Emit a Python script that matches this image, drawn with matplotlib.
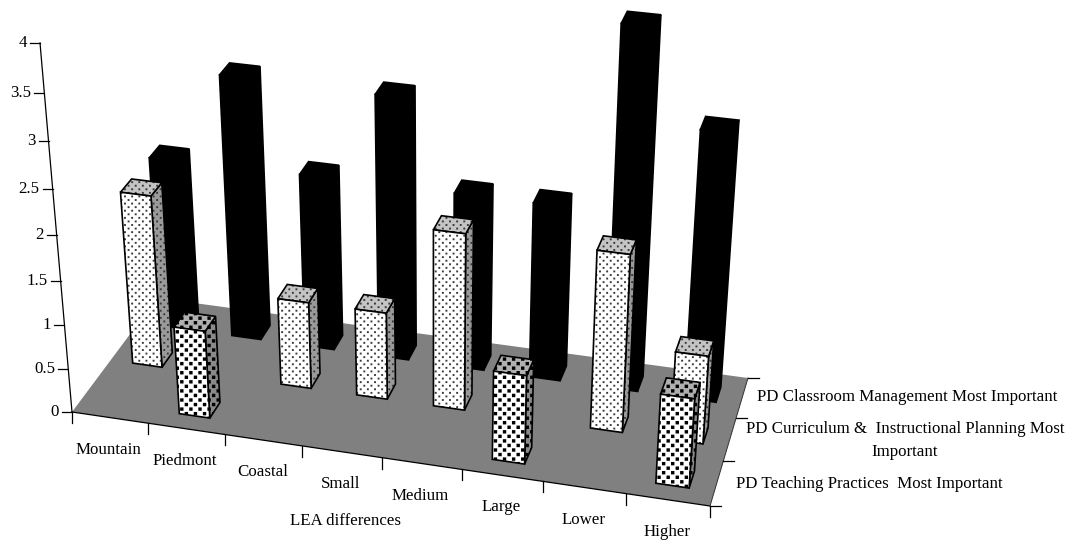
import numpy as np
import matplotlib
matplotlib.use("Agg")
import matplotlib.pyplot as plt
from matplotlib.patches import Polygon
from matplotlib import hatch as mhatch
from matplotlib.path import Path

plt.rcParams['font.family'] = ['Liberation Serif', 'DejaVu Serif']
plt.rcParams['hatch.linewidth'] = 0.0

categories = ["Mountain", "Piedmont", "Coastal", "Small", "Medium", "Large", "Lower", "Higher"]
series_names = ["PD Teaching Practices  Most Important",
                "PD Curriculum &  Instructional Planning Most\nImportant",
                "PD Classroom Management Most Important"]
teaching = [0, 1.0, 0, 0, 0, 1.0, 0, 1.0]
curriculum = [1.98, 0, 1.0, 1.0, 2.0, 0, 2.0, 1.0]
classroom = [1.98, 3.0, 2.0, 2.98, 2.0, 2.0, 4.0, 3.0]
y_ticks = [0, 0.5, 1, 1.5, 2, 2.5, 3, 3.5, 4]
y_tick_labels = ["0", "0.5", "1", "1.5", "2", "2.5", "3", "3.5", "4"]
x_title = "LEA differences"


class StaggeredDots(mhatch.HatchPatternBase):
    """Staggered square dots: 'o' large, 'O' fine."""
    SPEC = {'o': (22, 11, 0.034), 'O': (28, 14, 0.019)}

    def __init__(self, hatch, density):
        self.items = []
        for ch, (nr, nc, s) in self.SPEC.items():
            if ch in hatch:
                for r in range(nr + 1):
                    xs = [i / nc for i in range(nc + 1)] if r % 2 == 0 else [(i + 0.5) / nc for i in range(nc)]
                    for x in xs:
                        self.items.append((x, r / nr, s / 2))
        self.num_vertices = len(self.items) * 5

    def set_vertices_and_codes(self, vertices, codes):
        c = 0
        for x, y, h in self.items:
            vertices[c:c + 5] = [(x - h, y - h), (x + h, y - h), (x + h, y + h), (x - h, y + h), (x - h, y - h)]
            codes[c:c + 5] = [Path.MOVETO, Path.LINETO, Path.LINETO, Path.LINETO, Path.CLOSEPOLY]
            c += 5


mhatch._hatch_types[:] = [StaggeredDots]

# perspective camera of the chart, as pixel positions of the floor corners
floor_px = np.array([[72, 412], [710, 506], [748, 378], [157, 298]], float)
floor_uv = np.array([[0, 0], [8, 0], [8, 3], [0, 3]], float)
vert_vp = np.array([435.0, 4600.0])
top_axis_y = 43.0


def solve_h(src, dst):
    A, b = [], []
    for (u, v), (x, y) in zip(src, dst):
        A.append([u, v, 1, 0, 0, 0, -u * x, -v * x]); b.append(x)
        A.append([0, 0, 0, u, v, 1, -u * y, -v * y]); b.append(y)
    h = np.linalg.solve(np.array(A), np.array(b))
    return np.array([[h[0], h[1], h[2]], [h[3], h[4], h[5]], [h[6], h[7], 1.0]])


H = solve_h(floor_uv, floor_px)
k = (top_axis_y - H[1, 2]) / (y_ticks[-1] * (vert_vp[1] - top_axis_y))
p_h = k * np.array([vert_vp[0], vert_vp[1], 1.0])


def proj(u, v, h=0.0):
    q = H @ np.array([u, v, 1.0]) + h * p_h
    return q[:2] / q[2]


FS = 12.15
fig = plt.figure(figsize=(10.7, 5.4), dpi=100)
ax = fig.add_axes([0, 0, 1, 1])
ax.set_xlim(0, 1070)
ax.set_ylim(540, 0)
ax.axis("off")

# floor
ax.add_patch(Polygon([proj(0, 0), proj(8, 0), proj(8, 3), proj(0, 3)], closed=True,
                     facecolor="#808080", edgecolor="none", zorder=1))
ax.plot(*zip(proj(0, 0), proj(8, 0)), color="k", lw=0.9, zorder=1.5)
ax.plot(*zip(proj(8, 0), proj(8, 3)), color="#333333", lw=0.7, zorder=1.5)

# value axis
ax.plot(*zip(proj(0, 0, y_ticks[-1]), proj(0, 0, 0)), color="k", lw=0.9)
for t, lab in zip(y_ticks, y_tick_labels):
    x, y = proj(0, 0, t)
    ax.plot([x - 10, x], [y, y], color="k", lw=0.9)
    ax.text(x - 13, y, lab, ha="right", va="center", fontsize=FS)
x0, y0 = proj(0, 0)
ax.plot([x0, x0], [y0, y0 + 11], color="k", lw=0.9)

# category ticks and labels
for i, name in enumerate(categories):
    x, y = proj(i + 1, 0)
    ax.plot([x, x], [y, y + 11], color="k", lw=0.9)
    cx, cy = proj(i + 0.5, 0)
    ax.text(cx - 1, cy + 32, name, ha="center", va="center", fontsize=FS)
ax.text(346, 521, x_title, ha="center", va="center", fontsize=FS)

# series ticks and labels
for j in range(0, 4):
    x, y = proj(8, j)
    ax.plot([x, x + 11], [y, y], color="k", lw=0.9)
label_pos = [(869, 484), (905, 440.5), (907, 397)]
for name, (x, y) in zip(series_names, label_pos):
    ax.text(x, y, name, ha="center", va="center", fontsize=FS, linespacing=1.55)

BW, BD = 0.40, 0.38


def face(pts, fc, hc, hatch, z, edge):
    ax.add_patch(Polygon(pts, closed=True, facecolor=fc, edgecolor=hc if hatch else "none",
                         hatch=hatch, lw=0, zorder=z))
    ax.add_patch(Polygon(pts, closed=True, fill=False, edgecolor=edge, lw=1.2, joinstyle="miter", zorder=z))


def bar(i, j, val, style, z):
    if val <= 0:
        return
    u0, u1 = i + 0.5 - BW / 2, i + 0.5 + BW / 2
    v0, v1 = j + 0.5 - BD / 2, j + 0.5 + BD / 2
    a, b, c = proj(u0, v0), proj(u1, v0), proj(u1, v1)
    a2, b2, c2, d2 = proj(u0, v0, val), proj(u1, v0, val), proj(u1, v1, val), proj(u0, v1, val)
    face([b, c, c2, b2], style["side"], style["hc"], style["hatch"], z, style["edge"])
    face([a2, b2, c2, d2], style["top"], style["hc"], style["hatch"], z + 0.01, style["edge"])
    face([a, b, b2, a2], style["front"], style["hc"], style["hatch"], z + 0.02, style["edge"])


styles = [
    dict(front="white", side="#8a8a8a", top="#b0b0b0", hc="black", hatch="o", edge="black"),
    dict(front="white", side="#9a9a9a", top="#c4c4c4", hc="#383838", hatch="O", edge="black"),
    dict(front="black", side="black", top="black", hc="black", hatch=None, edge="black"),
]
rows = [teaching, curriculum, classroom]
for j in (2, 1, 0):
    for i in range(8):
        bar(i, j, rows[j][i], styles[j], 2 + (2 - j) + i * 0.05)

fig.savefig("out.png", dpi=100)
